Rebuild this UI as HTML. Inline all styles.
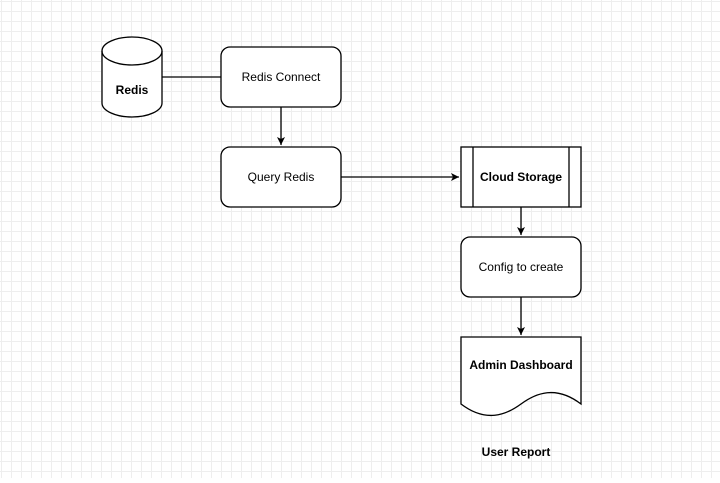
<!DOCTYPE html>
<html><head><style>
html,body{margin:0;padding:0;background:#fff}
body{width:720px;height:478px;overflow:hidden;
background-image:linear-gradient(#eeeeee 1px,transparent 1px),linear-gradient(90deg,#eeeeee 1px,transparent 1px);
background-size:10px 10px;background-position:-9px -9px}
svg text{font-family:"Liberation Sans",sans-serif;font-size:12px;fill:#000}
</style></head><body>
<svg width="720" height="478" xmlns="http://www.w3.org/2000/svg">
<defs><marker id="a" markerWidth="10" markerHeight="10" refX="8" refY="4" orient="auto" markerUnits="userSpaceOnUse"><path d="M0,0 L8,4 L0,8 L2,4 Z" fill="#000"/></marker></defs>
<g stroke="#000" stroke-width="1.3" fill="#fff">
<path d="M102,51 A30,14 0 0 1 162,51 L162,103 A30,14 0 0 1 102,103 Z"/>
<path d="M102,51 A30,14 0 0 0 162,51" fill="none"/>
<line x1="162" y1="77" x2="221" y2="77"/>
<rect x="221" y="47" width="120" height="60" rx="9"/>
<rect x="221" y="147" width="120" height="60" rx="9"/>
<line x1="281" y1="107" x2="281" y2="145" marker-end="url(#a)"/>
<line x1="341" y1="177" x2="459" y2="177" marker-end="url(#a)"/>
<rect x="461" y="147" width="120" height="60"/>
<line x1="473" y1="147" x2="473" y2="207"/>
<line x1="569" y1="147" x2="569" y2="207"/>
<line x1="521" y1="207" x2="521" y2="235" marker-end="url(#a)"/>
<rect x="461" y="237" width="120" height="60" rx="9"/>
<line x1="521" y1="297" x2="521" y2="335" marker-end="url(#a)"/>
<path d="M461,337 L581,337 L581,404 C556,385 536,393 521,404 C506,415 486,423 461,404 Z"/>
</g>
<text x="132" y="94" text-anchor="middle" font-weight="bold">Redis</text>
<text x="281" y="81" text-anchor="middle">Redis Connect</text>
<text x="281" y="181" text-anchor="middle">Query Redis</text>
<text x="521" y="181" text-anchor="middle" font-weight="bold">Cloud Storage</text>
<text x="521" y="271" text-anchor="middle">Config to create</text>
<text x="521" y="369" text-anchor="middle" font-weight="bold">Admin Dashboard</text>
<text x="516" y="456" text-anchor="middle" font-weight="bold">User Report</text>
</svg>
</body></html>
